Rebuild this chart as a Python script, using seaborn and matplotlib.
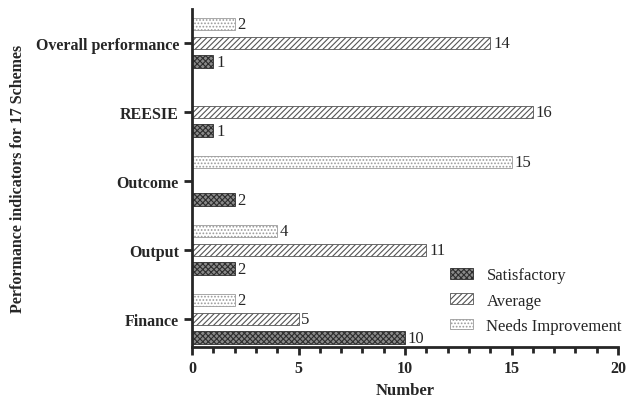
import numpy as np
import pandas as pd
import seaborn as sns
from matplotlib import pyplot as plt
from matplotlib.ticker import MultipleLocator


# indicators, listed top to bottom as drawn
indicators = ["Overall performance", "REESIE", "Outcome", "Output", "Finance"]
satisfactory = [1, 1, 2, 2, 10]
average = [14, 16, 0, 11, 5]
needs_improvement = [2, 0, 15, 4, 2]

# within a group the first hue level is drawn on top
hue_order = ["Needs Improvement", "Average", "Satisfactory"]
legend_order = ["Satisfactory", "Average", "Needs Improvement"]

df = pd.DataFrame({
    "indicator": indicators * 3,
    "rating": ["Satisfactory"] * 5 + ["Average"] * 5 + ["Needs Improvement"] * 5,
    "count": satisfactory + average + needs_improvement,
})

sns.set_style("ticks")
plt.rcParams["font.family"] = ["Liberation Serif", "DejaVu Serif"]
plt.rcParams["hatch.linewidth"] = 0.8

fig = plt.figure(figsize=(6.28, 4.02), dpi=100)
ax = fig.add_axes([0.306, 0.134, 0.678, 0.841])

sns.barplot(data=df, y="indicator", x="count", hue="rating",
            order=indicators, hue_order=hue_order, orient="h",
            width=0.82, gap=0.34, legend=False, ax=ax)

# fill / hatch styles per rating
styles = {
    "Satisfactory": dict(face="#8a8a8a", edge="#2e2e2e", hatch="xxxxxx"),
    "Average": dict(face="white", edge="#555555", hatch="//////"),
    "Needs Improvement": dict(face="white", edge="#9a9a9a", hatch="....."),
}
handles = {}
for cont, name in zip(ax.containers, hue_order):
    st = styles[name]
    for bar in cont:
        bar.set_facecolor(st["face"])
        bar.set_edgecolor(st["edge"])
        bar.set_hatch(st["hatch"])
        bar.set_linewidth(0.6)
    handles[name] = cont.patches[0]
    labels = [str(int(v)) if v > 0 else "" for v in cont.datavalues]
    ax.bar_label(cont, labels=labels, padding=2, fontsize=12)

ax.legend([handles[n] for n in legend_order], legend_order,
          loc="lower right", bbox_to_anchor=(1.025, 0.02), borderaxespad=0,
          frameon=False, fontsize=12, handlelength=1.4, handleheight=0.6,
          labelspacing=0.55, handletextpad=0.8)

ax.set_xlim(0, 20)
ax.set_ylim(4.41, -0.49)
ax.xaxis.set_major_locator(MultipleLocator(5))
ax.xaxis.set_minor_locator(MultipleLocator(1))
ax.tick_params(axis="both", which="major", width=2, length=6, labelsize=11.5)
ax.tick_params(axis="x", which="minor", width=2, length=4)
for lab in ax.get_xticklabels() + ax.get_yticklabels():
    lab.set_fontweight("bold")

ax.set_xlabel("Number", fontsize=12, fontweight="bold", labelpad=4)
ax.set_ylabel("Performance indicators for 17 Schemes", fontsize=11.5,
              fontweight="bold", labelpad=7)

sns.despine(ax=ax)
for side in ["left", "bottom"]:
    ax.spines[side].set_linewidth(2)

fig.savefig("out.png", dpi=100)
